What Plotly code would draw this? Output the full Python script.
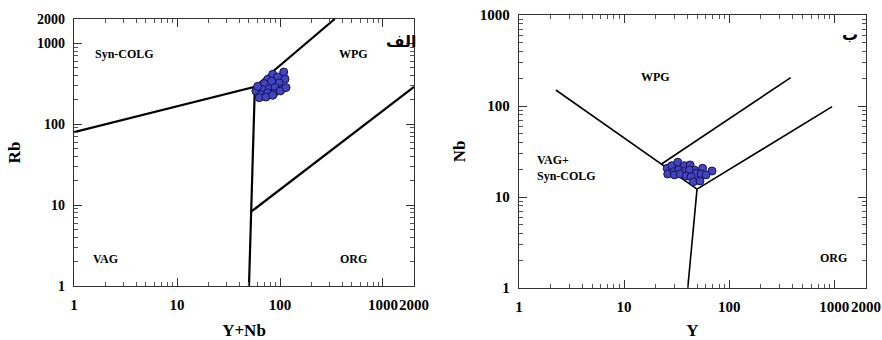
import math
import plotly.graph_objects as go

# ---- Data: left panel (Rb vs Y+Nb) ----
left_x = [84.9, 108.7, 75.9, 95.0, 111.9, 62.9, 70.4, 83.0, 98.5, 58.3, 67.8,
          78.7, 89.4, 106.2, 65.3, 75.9, 86.9, 100.7, 114.5, 62.9, 73.0, 84.9, 60.6]
left_y = [414, 442, 359, 384, 362, 294, 318, 340, 324, 258, 268,
          276, 284, 276, 232, 244, 239, 258, 284, 213, 217, 228, 294]

# boundary lines (left)
l_syncolg_x = [1, 57, 340]
l_syncolg_y = [80, 290, 2000]
l_vag_x = [50, 57]
l_vag_y = [1, 290]
l_org_x = [52.5, 2000]
l_org_y = [8.3, 290]

# ---- Data: right panel (Nb vs Y) ----
right_x = [25.7, 28.4, 32.4, 37.4, 42.4, 46.6, 55.8, 68.5, 26.0, 29.7, 33.1,
           37.4, 41.8, 48.3, 53.9, 60.1, 30.1, 34.1, 38.9, 43.3, 45.6, 52.7]
right_y = [20.7, 22.1, 24.1, 22.1, 22.5, 19.8, 20.7, 19.3, 17.9, 19.0, 19.8,
           19.0, 19.8, 18.2, 17.9, 17.5, 17.5, 17.9, 17.0, 16.7, 14.7, 15.0]

r_main_x = [2.24, 22.5, 49.4]
r_main_y = [150, 22.9, 12.2]
r_wpg_x = [22.5, 384]
r_wpg_y = [22.9, 205]
r_org_x = [49.4, 953]
r_org_y = [12.2, 98.3]
r_vert_x = [40.3, 49.4]
r_vert_y = [1, 12.2]

tick_vals = [1, 10, 100, 1000, 2000]
tick_text = ["1", "10", "100", "1000", "2000"]
tick_vals_r = [1, 10, 100, 1000]
tick_text_r = ["1", "10", "100", "1000"]

FONT = "Liberation Serif"
fill = "#4343C6"
edge = "#15154A"

fig = go.Figure()

def add_line(xs, ys, xa, ya, w):
    fig.add_trace(go.Scatter(x=xs, y=ys, mode="lines", xaxis=xa, yaxis=ya,
                             line=dict(color="black", width=w),
                             showlegend=False, hoverinfo="skip"))

add_line(l_syncolg_x, l_syncolg_y, "x", "y", 2.2)
add_line(l_vag_x, l_vag_y, "x", "y", 2.2)
add_line(l_org_x, l_org_y, "x", "y", 2.2)
fig.add_trace(go.Scatter(x=left_x, y=left_y, mode="markers", xaxis="x", yaxis="y",
                         marker=dict(size=8, color=fill, line=dict(color=edge, width=1)),
                         showlegend=False))

add_line(r_main_x, r_main_y, "x2", "y2", 1.6)
add_line(r_wpg_x, r_wpg_y, "x2", "y2", 1.6)
add_line(r_org_x, r_org_y, "x2", "y2", 1.6)
add_line(r_vert_x, r_vert_y, "x2", "y2", 1.6)
fig.add_trace(go.Scatter(x=right_x, y=right_y, mode="markers", xaxis="x2", yaxis="y2",
                         marker=dict(size=8, color=fill, line=dict(color=edge, width=1)),
                         showlegend=False))

def axis_common(size):
    return dict(type="log", showgrid=False, zeroline=False, showline=True,
                linecolor="#333", linewidth=1.3, mirror="allticks",
                ticks="inside", ticklen=8, tickcolor="#333", tickwidth=1,
                minor=dict(ticks="inside", ticklen=4, tickcolor="#555",
                           dtick="D1", showgrid=False),
                tickfont=dict(family=FONT, size=size, color="black", weight="bold"),
                tickmode="array", tickangle=0, ticklabelstandoff=5,
                ticklabeloverflow="allow", automargin=False)

def title(text, standoff):
    return dict(text=text, standoff=standoff,
                font=dict(family=FONT, size=17, color="black", weight="bold"))

W, H = 882, 340

def xdom(a, b):
    return [a / W, b / W]

def ydom(top, bottom):
    return [(H - bottom) / H, (H - top) / H]

xa = axis_common(15)
xa.update(domain=xdom(74, 414), range=[0, math.log10(2000)],
          tickvals=tick_vals, ticktext=tick_text, anchor="y",
          title=title("Y+Nb", 14))
ya = axis_common(14)
ya.update(domain=ydom(19, 286), range=[0, math.log10(2000)],
          tickvals=tick_vals, ticktext=tick_text, anchor="x",
          title=title("Rb", 12))
xa2 = axis_common(15)
xa2.update(domain=xdom(519, 866), range=[0, math.log10(2000)],
           tickvals=tick_vals, ticktext=tick_text, anchor="y2",
           title=title("Y", 16))
ya2 = axis_common(15)
ya2.update(domain=ydom(15, 288), range=[0, 3],
           tickvals=tick_vals_r, ticktext=tick_text_r, anchor="x2",
           title=title("Nb", 9))

ann = []
def label(text, x, y, xr, yr, size=12, align="center", family=FONT):
    ann.append(dict(text=text, x=math.log10(x), y=math.log10(y), xref=xr, yref=yr,
                    showarrow=False, align=align, xanchor="center",
                    font=dict(family=family, size=size, color="black", weight="bold")))

label("Syn-COLG", 3.07, 730, "x", "y")
label("WPG", 515, 730, "x", "y")
label("VAG", 2.04, 2.14, "x", "y")
label("ORG", 520, 2.14, "x", "y")
label("الف", 1500, 1050, "x", "y", size=16, family="DejaVu Sans")

label("WPG", 19.9, 210, "x2", "y2")
label("VAG+<br>Syn-COLG", 2.83, 20.7, "x2", "y2", align="left")
label("ORG", 975, 2.12, "x2", "y2")
label("ب", 1400, 603, "x2", "y2", size=16, family="DejaVu Sans")

fig.update_layout(width=W, height=H, margin=dict(l=0, r=0, t=0, b=0),
                  paper_bgcolor="white", plot_bgcolor="white",
                  xaxis=xa, yaxis=ya, xaxis2=xa2, yaxis2=ya2,
                  annotations=ann, showlegend=False)

# remove the page's default body margin so the figure fills the window exactly
page_fix = ("document.body.style.margin='0';"
            "document.body.style.overflow='hidden';"
            "document.documentElement.style.overflow='hidden';")
fig.write_html("out.html", post_script=page_fix, config={"displayModeBar": False})
